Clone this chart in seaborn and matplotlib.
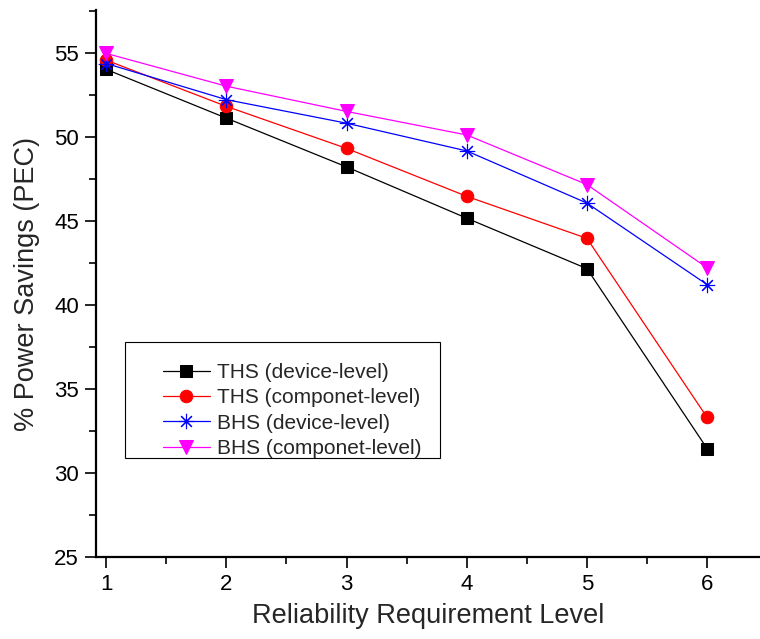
import numpy as np
import pandas as pd
import matplotlib
matplotlib.use('Agg')
import matplotlib.pyplot as plt
from matplotlib.ticker import MultipleLocator
from matplotlib.patches import Rectangle
import seaborn as sns

# Data
levels = [1, 2, 3, 4, 5, 6]
ths_device = [54.0, 51.1, 48.2, 45.15, 42.15, 31.45]
ths_component = [54.55, 51.8, 49.3, 46.45, 43.95, 33.3]
bhs_device = [54.35, 52.2, 50.8, 49.15, 46.05, 41.2]
bhs_component = [54.95, 53.0, 51.5, 50.1, 47.15, 42.2]
labels = ['THS (device-level)', 'THS (componet-level)',
          'BHS (device-level)', 'BHS (componet-level)']

df = pd.DataFrame({
    'level': levels * 4,
    'saving': ths_device + ths_component + bhs_device + bhs_component,
    'series': np.repeat(labels, len(levels)),
})

sns.set_style('ticks')
plt.rcParams['font.family'] = ['Liberation Sans', 'DejaVu Sans']

fig = plt.figure(figsize=(7.6, 6.39), dpi=100)
ax = fig.add_axes([0.126, 0.1283, 0.874, 0.856])

styles = {
    labels[0]: dict(color='black', marker='s', markersize=8, mec='black'),
    labels[1]: dict(color='#ff0000', marker='o', markersize=9, mec='#ff0000'),
    labels[2]: dict(color='#0000ff', marker=(8, 2, 0), markersize=11,
                    mec='#0000ff', mew=0.8),
    labels[3]: dict(color='#ff00ff', marker='v', markersize=10.5, mec='#ff00ff'),
}

for name in labels:
    sub = df[df['series'] == name]
    sns.lineplot(data=sub, x='level', y='saving', ax=ax, label=name,
                 linewidth=0.9, **styles[name])

ax.set_xlim(0.913, 6.44)
ax.set_ylim(25, 57.53)
ax.xaxis.set_major_locator(MultipleLocator(1))
ax.xaxis.set_minor_locator(MultipleLocator(0.5))
ax.yaxis.set_major_locator(MultipleLocator(5))
ax.yaxis.set_minor_locator(MultipleLocator(2.5))

for side in ['top', 'right']:
    ax.spines[side].set_visible(False)
for side in ['left', 'bottom']:
    ax.spines[side].set_linewidth(1.6)
    ax.spines[side].set_color('black')

ax.tick_params(which='major', direction='out', length=8, width=1.2,
               labelsize=16, pad=4, colors='black')
ax.tick_params(which='minor', direction='out', length=5, width=1.2, colors='black')

ax.set_xlabel('Reliability Requirement Level', fontsize=19.5, labelpad=6)
ax.set_ylabel('% Power Savings (PEC)', fontsize=19.5, labelpad=10)

# legend box, Origin style: frame offset from its entries
ax.add_patch(Rectangle((0.0441, 0.1804), 0.4742, 0.2132, transform=ax.transAxes,
                       fill=False, edgecolor='black', linewidth=0.8, zorder=5))
leg = ax.legend(loc='upper left', bbox_to_anchor=(0.1005, 0.355),
                fontsize=15, handlelength=2.3, handletextpad=0.3,
                labelspacing=0.31, borderpad=0, borderaxespad=0,
                frameon=False)

fig.savefig('out.png', dpi=100)
